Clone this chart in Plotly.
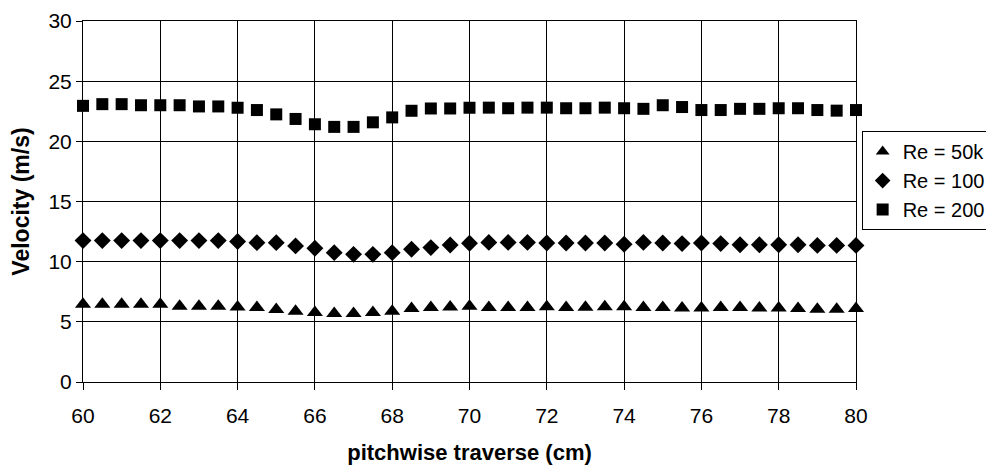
import plotly.graph_objects as go

x_cm = [60, 60.5, 61, 61.5, 62, 62.5, 63, 63.5, 64, 64.5, 65, 65.5, 66, 66.5, 67, 67.5,
        68, 68.5, 69, 69.5, 70, 70.5, 71, 71.5, 72, 72.5, 73, 73.5, 74, 74.5, 75, 75.5,
        76, 76.5, 77, 77.5, 78, 78.5, 79, 79.5, 80]

re_50k = [6.46, 6.46, 6.46, 6.46, 6.46, 6.29, 6.29, 6.29, 6.24, 6.19, 6.02, 5.88, 5.77, 5.69,
          5.69, 5.77, 5.88, 6.1, 6.19, 6.24, 6.29, 6.2, 6.2, 6.2, 6.25, 6.2, 6.22, 6.25, 6.25,
          6.2, 6.2, 6.15, 6.15, 6.2, 6.2, 6.15, 6.15, 6.1, 6.05, 6.05, 6.1]

re_100 = [11.75, 11.75, 11.75, 11.75, 11.75, 11.75, 11.75, 11.75, 11.67, 11.58, 11.58, 11.31,
          11.11, 10.75, 10.61, 10.61, 10.75, 11.03, 11.17, 11.39, 11.53, 11.6, 11.6, 11.6,
          11.55, 11.55, 11.55, 11.55, 11.45, 11.6, 11.55, 11.5, 11.55, 11.5, 11.4, 11.4, 11.4,
          11.4, 11.35, 11.35, 11.35]

re_200 = [22.95, 23.09, 23.09, 23.0, 23.0, 23.0, 22.9, 22.9, 22.79, 22.6, 22.24, 21.86, 21.42,
          21.2, 21.2, 21.58, 21.99, 22.54, 22.73, 22.73, 22.79, 22.8, 22.75, 22.8, 22.8, 22.75,
          22.75, 22.8, 22.75, 22.7, 23.0, 22.85, 22.6, 22.6, 22.7, 22.7, 22.75, 22.75, 22.6,
          22.55, 22.6]

series = [
    ("Re = 50k", re_50k, "triangle-up", 14),
    ("Re = 100", re_100, "diamond", 13),
    ("Re = 200", re_200, "square", 12),
]

fig = go.Figure()
for name, ys, sym, sz in series:
    fig.add_trace(go.Scatter(
        x=x_cm, y=ys, name=name, mode="markers",
        marker=dict(symbol=sym, size=sz, color="black"),
        cliponaxis=False,
    ))

font_family = "Liberation Sans, Arial, sans-serif"

fig.update_layout(
    width=994, height=473,
    margin=dict(l=75, r=145, t=13, b=99),
    paper_bgcolor="white", plot_bgcolor="white",
    font=dict(family=font_family, size=21, color="black"),
    showlegend=True,
    legend=dict(
        x=1.006, y=0.695, xanchor="left", yanchor="top",
        bordercolor="black", borderwidth=1,
        font=dict(size=20, color="black"),
        itemsizing="constant",
        tracegroupgap=0,
    ),
    xaxis=dict(
        range=[60, 80], dtick=2, tick0=60, automargin=False,
        showgrid=True, gridcolor="black", gridwidth=1,
        showline=True, linecolor="black", linewidth=1, mirror=True,
        ticks="outside", ticklen=7, tickcolor="black",
        ticklabelstandoff=8, ticklabeloverflow="allow",
        zeroline=False,
        title=dict(text="<b>pitchwise traverse (cm)</b>", font=dict(size=22), standoff=18),
    ),
    yaxis=dict(
        range=[0, 30], dtick=5, tick0=0, automargin=False,
        showgrid=True, gridcolor="black", gridwidth=1,
        showline=True, linecolor="black", linewidth=1, mirror=True,
        ticks="outside", ticklen=6, tickcolor="black",
        ticklabeloverflow="allow",
        zeroline=False,
        title=dict(text="<b>Velocity (m/s)</b>", font=dict(size=23), standoff=16),
    ),
)

fig.write_html("out.html")
